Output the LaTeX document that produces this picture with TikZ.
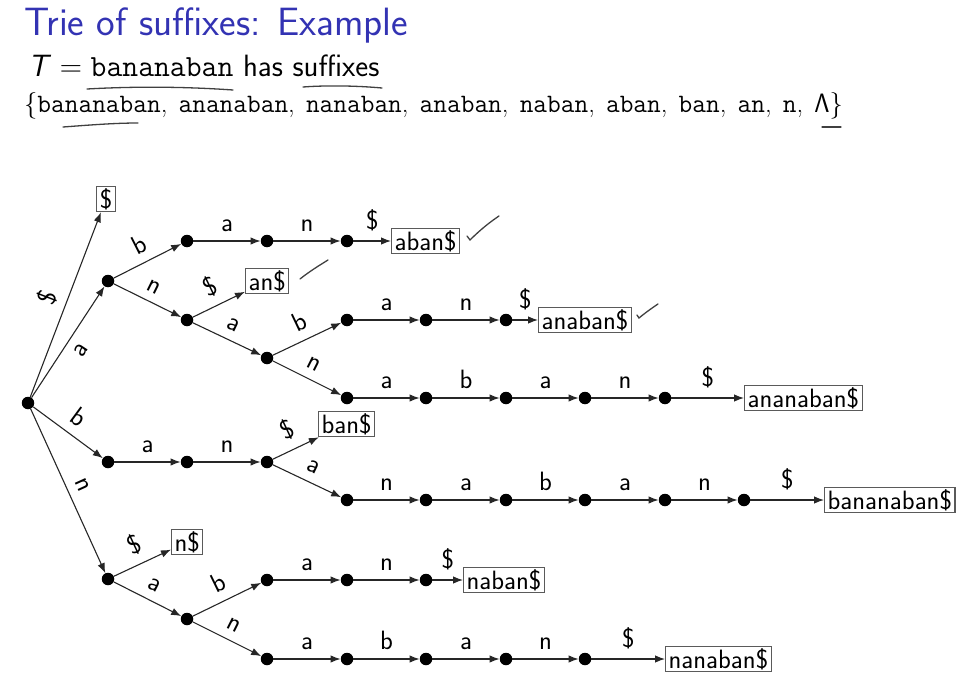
\RequirePackage{fix-cm}
\documentclass[tikz,border=0pt]{standalone}
\usepackage[no-math]{fontspec}
\usetikzlibrary{arrows.meta}

\definecolor{framettl}{RGB}{51,51,179}
\definecolor{boxline}{RGB}{90,90,90}

\newcommand\ttlfnt{\fontsize{39.5}{46}\selectfont\sffamily}
\newcommand\bdyfnt{\fontsize{30.8}{37}\selectfont\sffamily}
\newcommand\sufnt{\fontsize{26.6}{32}\selectfont\rmfamily}
\newcommand\dgfnt{\fontsize{26.5}{31}\selectfont\sffamily}
\newcommand\sfx[1]{\texttt{#1},\hspace{0.42em}}

\tikzset{
  vtx/.style={circle, fill=black, inner sep=0pt, minimum size=12.5pt},
  leaf/.style={draw=boxline, line width=1.2pt, inner xsep=3pt, inner ysep=2pt, font=\dgfnt},
  link/.style={-{Latex[length=10pt,width=7.5pt]}, line width=1.1pt, draw=black!85},
  lbl/.style={font=\dgfnt, sloped, inner sep=1pt},
  pen/.style={line width=1.3pt, draw=black!75, line cap=round},
}

\begin{document}
\begin{tikzpicture}[x=1pt, y=-1pt]
\useasboundingbox (0,0) rectangle (967,677);

% heading and the set of suffixes
\node[anchor=base west, font=\ttlfnt, text=framettl, inner sep=0pt] (title) at (24,36) {Trie of suffixes: Example};
\node[anchor=base west, font=\bdyfnt, inner sep=0pt] (text) at (28,77)
  {$\textsf{\textit{T}} = \texttt{bananaban}$ has suffixes};
\node[anchor=base west, font=\sufnt, inner sep=0pt] (suffixes) at (24,112)
  {$\{$\sfx{bananaban}\sfx{ananaban}\sfx{nanaban}\sfx{anaban}\sfx{naban}\sfx{aban}\sfx{ban}\sfx{an}\sfx{n}$\mathsf{\Lambda}\}$};

% trie vertices
\node[vtx] (r) at (28,403) {};
\node[leaf] (L0) at (106,199) {\$};

\node[vtx] (a) at (108,281) {};
\node[vtx] (ab) at (187,241) {};
\node[vtx] (aba) at (267,241) {};
\node[vtx] (abn) at (347,241) {};
\node[leaf, anchor=west] (L1) at (391,241) {aban\$};

\node[vtx] (an) at (187,320) {};
\node[leaf, anchor=west] (L2) at (245,281) {an\$};
\node[vtx] (ana) at (267,358) {};
\node[vtx] (anab) at (347,320) {};
\node[vtx] (anaba) at (426,320) {};
\node[vtx] (anabn) at (506,320) {};
\node[leaf, anchor=west] (L3) at (538,320) {anaban\$};
\node[vtx] (anan) at (347,398) {};
\node[vtx] (anan1) at (426,398) {};
\node[vtx] (anan2) at (506,398) {};
\node[vtx] (anan3) at (585,398) {};
\node[vtx] (anan4) at (665,398) {};
\node[leaf, anchor=west] (L4) at (744,398) {ananaban\$};

\node[vtx] (b) at (108,462) {};
\node[vtx] (ba) at (187,462) {};
\node[vtx] (bn) at (267,462) {};
\node[leaf, anchor=west] (L5) at (318,424) {ban\$};
\node[vtx] (bana) at (347,500) {};
\node[vtx] (bana1) at (426,500) {};
\node[vtx] (bana2) at (506,500) {};
\node[vtx] (bana3) at (585,500) {};
\node[vtx] (bana4) at (665,500) {};
\node[vtx] (bana5) at (744,500) {};
\node[leaf, anchor=west] (L6) at (824,500) {bananaban\$};

\node[vtx] (n) at (108,579) {};
\node[leaf, anchor=west] (L7) at (171,542) {n\$};
\node[vtx] (na) at (187,619) {};
\node[vtx] (nab) at (267,580) {};
\node[vtx] (nab1) at (347,580) {};
\node[vtx] (nab2) at (426,580) {};
\node[leaf, anchor=west] (L8) at (463,580) {naban\$};
\node[vtx] (nan) at (267,659) {};
\node[vtx] (nan1) at (347,659) {};
\node[vtx] (nan2) at (426,659) {};
\node[vtx] (nan3) at (506,659) {};
\node[vtx] (nan4) at (585,659) {};
\node[leaf, anchor=west] (L9) at (665,659) {nanaban\$};

% trie edges
\draw[link] (r) -- node[lbl, above=8pt] {\$} (L0);
\draw[link] (r) -- node[lbl, below=8pt] {a} (a);
\draw[link] (r) -- node[lbl, above=8pt] {b} (b);
\draw[link] (r) -- node[lbl, above=8pt] {n} (n);

\draw[link] (a) -- node[lbl, above=8pt] {b} (ab);
\draw[link] (ab) -- node[lbl, above=8pt] {a} (aba);
\draw[link] (aba) -- node[lbl, above=8pt] {n} (abn);
\draw[link] (abn) -- node[lbl, above=8pt] {\$} (L1);

\draw[link] (a) -- node[lbl, above=8pt] {n} (an);
\draw[link] (an) -- node[lbl, above=8pt] {\$} (L2);
\draw[link] (an) -- node[lbl, above=8pt] {a} (ana);
\draw[link] (ana) -- node[lbl, above=8pt] {b} (anab);
\draw[link] (anab) -- node[lbl, above=8pt] {a} (anaba);
\draw[link] (anaba) -- node[lbl, above=8pt] {n} (anabn);
\draw[link] (anabn) -- node[lbl, above=8pt] {\$} (L3);
\draw[link] (ana) -- node[lbl, above=8pt] {n} (anan);
\draw[link] (anan) -- node[lbl, above=8pt] {a} (anan1);
\draw[link] (anan1) -- node[lbl, above=8pt] {b} (anan2);
\draw[link] (anan2) -- node[lbl, above=8pt] {a} (anan3);
\draw[link] (anan3) -- node[lbl, above=8pt] {n} (anan4);
\draw[link] (anan4) -- node[lbl, above=8pt] {\$} (L4);

\draw[link] (b) -- node[lbl, above=8pt] {a} (ba);
\draw[link] (ba) -- node[lbl, above=8pt] {n} (bn);
\draw[link] (bn) -- node[lbl, above=8pt] {\$} (L5);
\draw[link] (bn) -- node[lbl, above=8pt] {a} (bana);
\draw[link] (bana) -- node[lbl, above=8pt] {n} (bana1);
\draw[link] (bana1) -- node[lbl, above=8pt] {a} (bana2);
\draw[link] (bana2) -- node[lbl, above=8pt] {b} (bana3);
\draw[link] (bana3) -- node[lbl, above=8pt] {a} (bana4);
\draw[link] (bana4) -- node[lbl, above=8pt] {n} (bana5);
\draw[link] (bana5) -- node[lbl, above=8pt] {\$} (L6);

\draw[link] (n) -- node[lbl, above=8pt] {\$} (L7);
\draw[link] (n) -- node[lbl, above=8pt] {a} (na);
\draw[link] (na) -- node[lbl, above=8pt] {b} (nab);
\draw[link] (nab) -- node[lbl, above=8pt] {a} (nab1);
\draw[link] (nab1) -- node[lbl, above=8pt] {n} (nab2);
\draw[link] (nab2) -- node[lbl, above=8pt] {\$} (L8);
\draw[link] (na) -- node[lbl, above=8pt] {n} (nan);
\draw[link] (nan) -- node[lbl, above=8pt] {a} (nan1);
\draw[link] (nan1) -- node[lbl, above=8pt] {b} (nan2);
\draw[link] (nan2) -- node[lbl, above=8pt] {a} (nan3);
\draw[link] (nan3) -- node[lbl, above=8pt] {n} (nan4);
\draw[link] (nan4) -- node[lbl, above=8pt] {\$} (L9);

% handwritten underlines and ticks
\draw[pen] (87,89) .. controls (140,86) and (190,87) .. (233,90);
\draw[pen] (303,87) .. controls (330,85) and (360,86) .. (382,88);
\draw[pen] (63,127) .. controls (90,125) and (115,123) .. (138,123);
\draw[pen] (822,127) -- (841,127);
\draw[pen] (467,236) -- (470,240) .. controls (480,230) and (490,222) .. (499,216);
\draw[pen] (300,279) .. controls (310,271) and (320,265) .. (328,260);
\draw[pen] (637,315) -- (639,318) .. controls (645,313) and (652,308) .. (658,304);
\end{tikzpicture}
\end{document}
